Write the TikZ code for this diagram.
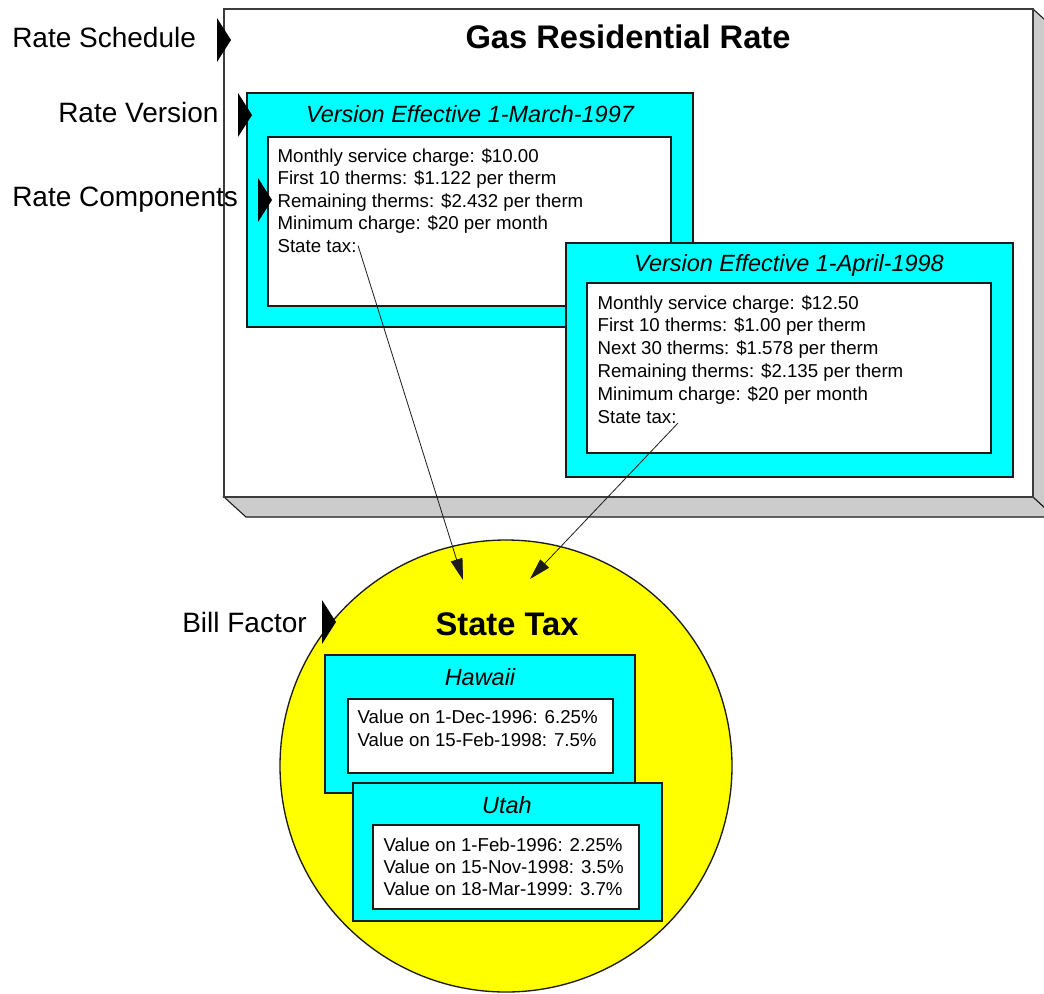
\documentclass[tikz,border=0pt]{standalone}
\usepackage{fontspec}
\setmainfont{Liberation Sans}
\usetikzlibrary{positioning, arrows.meta}
\definecolor{ink}{RGB}{28,28,28}
\definecolor{rim}{RGB}{60,60,60}
\definecolor{aqua}{RGB}{0,255,255}
\definecolor{sun}{RGB}{255,255,0}
\definecolor{shade}{RGB}{204,204,204}

\begin{document}
\begin{tikzpicture}[x=0.75pt, y=-0.75pt]
  \tikzset{
    face/.style={fill=white, draw=rim, line width=1.4pt},
    side/.style={fill=shade, draw=ink, line width=0.8pt},
    band/.style={fill=aqua, draw=ink, line width=1.1pt},
    sheet/.style={fill=white, draw=ink, line width=1.1pt},
    heading/.style={font=\fontsize{24.5}{28}\selectfont\bfseries, anchor=base, inner sep=0pt},
    caption/.style={font=\fontsize{17.6}{20}\selectfont\itshape, anchor=base, inner sep=0pt},
    entry/.style={font=\fontsize{14}{17}\selectfont, anchor=base west, inner sep=1pt},
    tag/.style={font=\fontsize{21}{25}\selectfont, anchor=base west, inner sep=0pt},
    feed/.style={-{Triangle[length=16pt, width=9pt]}, draw=ink, line width=0.6pt},
    flag/.pic={\fill[black] (0,-22) -- (14,0) -- (0,22) -- cycle;}}
  \useasboundingbox (0,0) rectangle (1044,993);

  % --- the rate schedule, a raised slab
  \filldraw[side] (224,497) -- (1033,497) -- (1055,517) -- (246,517) -- cycle;
  \filldraw[side] (1033,9) -- (1055,29) -- (1055,517) -- (1033,497) -- cycle;
  \filldraw[face] (224,9) rectangle (1033,497);
  \node[heading] (sched) at (628,48) {Gas Residential Rate};

  % --- version of 1997
  \filldraw[band] (247,93) rectangle (693,327);
  \filldraw[sheet] (268,137) rectangle (671,306);
  \node[caption] (verA) at (470,122) {Version Effective 1-March-1997};
  \foreach \t [count=\i] in {Monthly service charge: \$10.00,
      First 10 therms: \$1.122 per therm, Remaining therms: \$2.432 per therm,
      Minimum charge: \$20 per month, State tax:}
    \node[entry] (va\i) at (276,139.5+22.5*\i) {\t};

  % --- version of 1998
  \filldraw[band] (566,243) rectangle (1013,477);
  \filldraw[sheet] (587,283) rectangle (991,453);
  \node[caption] (verB) at (789,271) {Version Effective 1-April-1998};
  \foreach \t [count=\i] in {Monthly service charge: \$12.50,
      First 10 therms: \$1.00 per therm, Next 30 therms: \$1.578 per therm,
      Remaining therms: \$2.135 per therm, Minimum charge: \$20 per month,
      State tax:}
    \node[entry] (vb\i) at (596,286.2+22.8*\i) {\t};

  % --- the bill factor
  \node[circle, fill=sun, draw=ink, line width=1pt, inner sep=0pt,
        minimum size=339pt] (tax) at (506,766) {};
  \node[heading] (taxname) at (507,635) {State Tax};

  \filldraw[band] (325,655) rectangle (635,793);
  \filldraw[sheet] (348,699) rectangle (613,773);
  \node[caption] (hawaii) at (480,685) {Hawaii};
  \foreach \t [count=\i] in {Value on 1-Dec-1996: 6.25\%,
      Value on 15-Feb-1998: 7.5\%}
    \node[entry] (ha\i) at (356,700+23*\i) {\t};

  \filldraw[band] (353,783) rectangle (662,921);
  \filldraw[sheet] (373,825) rectangle (639,909);
  \node[caption] (utah) at (507,813) {Utah};
  \foreach \t [count=\i] in {Value on 1-Feb-1996: 2.25\%,
      Value on 15-Nov-1998: 3.5\%, Value on 18-Mar-1999: 3.7\%}
    \node[entry] (ut\i) at (382,829+22*\i) {\t};

  % --- state tax looked up from each version
  \coordinate (hitA) at (463,580);
  \coordinate (hitB) at (530,579);
  \draw[feed] (va5.east) -- (hitA);
  \draw[feed] (vb6.base east) -- (hitB);

  % --- what each level is called
  \node[tag] (lsched) at (12,47) {Rate Schedule};
  \node[tag] (lver) at (58,122) {Rate Version};
  \node[tag] (lcomp) at (12,206) {Rate Components};
  \node[tag] (lfact) at (182,632) {Bill Factor};
  \pic at (217,40) {flag};
  \pic at (238,115) {flag};
  \pic at (258,200) {flag};
  \pic at (322,622) {flag};
\end{tikzpicture}
\end{document}
